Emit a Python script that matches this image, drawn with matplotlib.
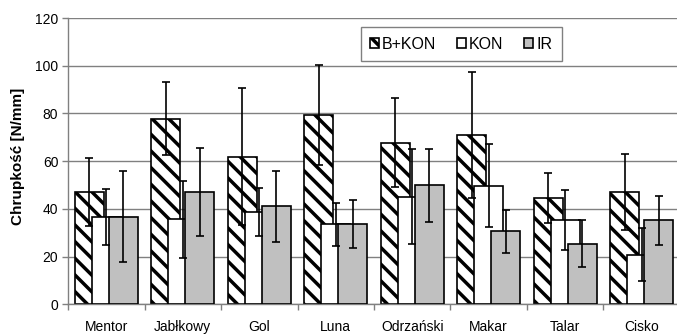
import numpy as np
import matplotlib
matplotlib.use("Agg")
from matplotlib import pyplot as plt

plt.rcParams['font.family'] = ['Liberation Sans', 'DejaVu Sans']
plt.rcParams['hatch.linewidth'] = 2.5

# Odmiany i wyniki (średnia, odchylenie)
varieties = ['Mentor', 'Jabłkowy', 'Gol', 'Luna', 'Odrzański', 'Makar', 'Talar', 'Cisko']
series = ['B+KON', 'KON', 'IR']

bkon_mean = [47.0, 77.7, 61.9, 79.2, 67.8, 71.0, 44.7, 47.0]
bkon_sd = [14.3, 15.3, 28.6, 21.0, 18.5, 26.4, 10.5, 15.8]
kon_mean = [36.7, 35.6, 38.8, 33.5, 45.1, 49.7, 35.2, 20.8]
kon_sd = [11.8, 16.0, 10.1, 9.1, 19.9, 17.5, 12.6, 11.2]
ir_mean = [36.7, 47.0, 41.0, 33.5, 49.9, 30.7, 25.4, 35.2]
ir_sd = [19.0, 18.5, 14.8, 10.1, 15.4, 9.0, 9.9, 10.4]

y_ticks = [0, 20, 40, 60, 80, 100, 120]

means = [bkon_mean, kon_mean, ir_mean]
sds = [bkon_sd, kon_sd, ir_sd]
faces = ['white', 'white', '#c0c0c0']
hatches = ['\\\\', None, None]

fig = plt.figure(figsize=(6.77, 3.34), dpi=100)
ax = fig.add_axes([68 / 677, 29.7 / 334, 612 / 677, 286.3 / 334])

x = np.arange(len(varieties))
width = 0.38
step = 0.222

for i, (m, face, hatch) in enumerate(zip(means, faces, hatches)):
    ax.bar(x + (i - 1) * step, m, width, color=face, edgecolor='black',
           linewidth=1.2, hatch=hatch, label=series[i], zorder=2 + i)

# slupki bledow rysowane nad wszystkimi seriami
for i, (m, s) in enumerate(zip(means, sds)):
    ax.errorbar(x + (i - 1) * step, m, yerr=s, fmt='none', ecolor='black',
                elinewidth=1.2, capsize=3.2, capthick=1.2, zorder=10)

ax.set_xlim(-0.5, len(varieties) - 0.5)
ax.set_ylim(0, 120)
ax.set_yticks(y_ticks)
ax.yaxis.grid(True, color='#808080', linewidth=1.0, zorder=0)
ax.set_axisbelow(True)

# podzialka kategorii: kreski na granicach, opisy w srodkach
ax.set_xticks(np.arange(len(varieties) + 1) - 0.5)
ax.set_xticklabels([])
ax.set_xticks(x, minor=True)
ax.set_xticklabels(varieties, minor=True, fontsize=10)
ax.tick_params(axis='x', which='major', direction='out', length=4, width=1, color='#808080')
ax.tick_params(axis='x', which='minor', length=0, pad=11)
ax.tick_params(axis='y', direction='out', length=4, width=1, color='#808080',
               labelsize=10, pad=3)

for side in ['top', 'right']:
    ax.spines[side].set_visible(False)
for side in ['left', 'bottom']:
    ax.spines[side].set_color('#808080')
    ax.spines[side].set_linewidth(1.0)

fig.text(18 / 677, 0.533, 'Chrupkość [N/mm]', rotation=90, fontweight='bold',
         fontsize=11, ha='center', va='center')

leg = ax.legend(ncol=3, loc='upper left', bbox_to_anchor=(0.478, 0.9675),
                borderaxespad=0, fontsize=11.5, handlelength=0.55, handleheight=0.55,
                handletextpad=0.2, columnspacing=1.3, fancybox=False,
                framealpha=1, edgecolor='#808080', borderpad=0.6)
leg.get_frame().set_linewidth(1.0)

fig.savefig('out.png', dpi=100)
